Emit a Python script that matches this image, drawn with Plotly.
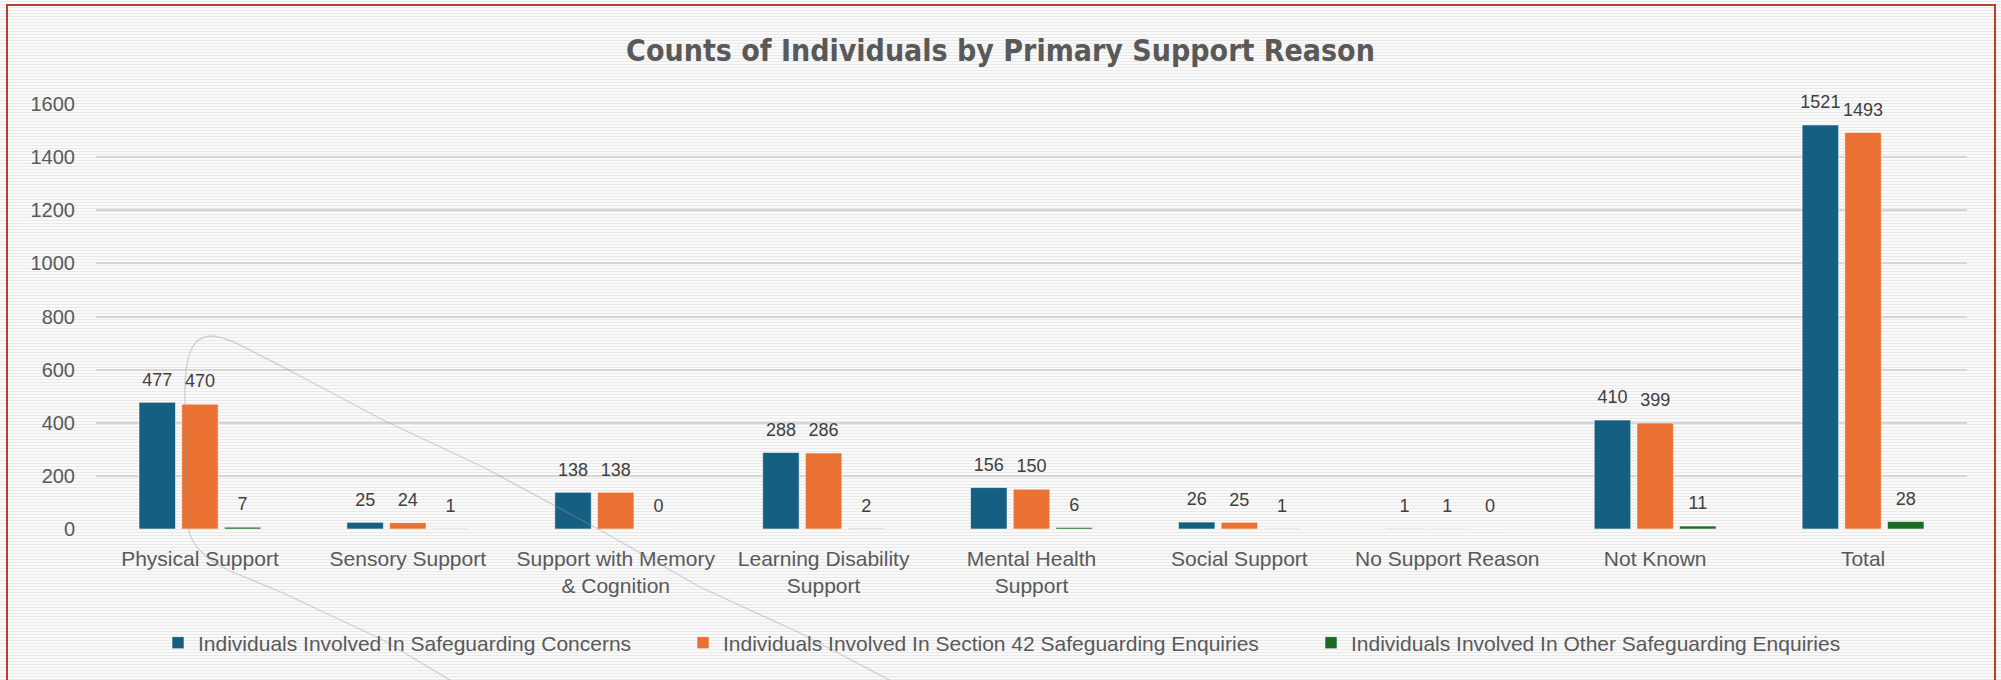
import plotly.graph_objects as go

categories = ["Physical Support", "Sensory Support", "Support with Memory<br>& Cognition",
              "Learning Disability<br>Support", "Mental Health<br>Support", "Social Support",
              "No Support Reason", "Not Known", "Total"]
concerns = [477, 25, 138, 288, 156, 26, 1, 410, 1521]
section42 = [470, 24, 138, 286, 150, 25, 1, 399, 1493]
other = [7, 1, 0, 2, 6, 1, 0, 11, 28]
series_names = ["Individuals Involved In Safeguarding Concerns",
                "Individuals Involved In Section 42 Safeguarding Enquiries",
                "Individuals Involved In Other Safeguarding Enquiries"]
colors = ["#156082", "#E97132", "#196B24"]
y_ticks = [0, 200, 400, 600, 800, 1000, 1200, 1400, 1600]

W, H = 2001, 680
L, R, T, B = 96, 1967, 104, 529


def px(x):
    return (x - L) / (R - L)


def py(y):
    return (B - y) / (B - T)


fig = go.Figure()
legends = ["legend", "legend2", "legend3"]
for vals, name, col, lg in zip([concerns, section42, other], series_names, colors, legends):
    fig.add_trace(go.Bar(x=categories, y=vals, name=name, marker_color=col,
                         marker_line=dict(color="rgba(255,255,255,0.55)", width=1),
                         legend=lg, hoverinfo="skip"))
for vals, col in zip([concerns, section42, other], colors):
    fig.add_trace(go.Scatter(x=categories, y=vals, mode="markers+text", text=[str(v) for v in vals],
                             textposition="top center",
                             textfont=dict(family="Liberation Sans, Arial, sans-serif", size=18, color="#404040"),
                             marker=dict(size=18, color="rgba(0,0,0,0)"),
                             showlegend=False, hoverinfo="skip", cliponaxis=False))

shapes = []
# striped background
for k in range(0, H // 3 + 1):
    yy = 3 * k + 1.5
    shapes.append(dict(type="line", xref="paper", yref="paper", x0=px(-5), x1=px(W + 5),
                       y0=py(yy), y1=py(yy), line=dict(color="#e9e9e9", width=1), layer="below"))
# faint curved stroke
pts = "M {} {} L {} {} L {} {} L {} {} C {} {}, {} {}, {} {} L {} {} C {} {}, {} {}, {} {} C {} {}, {} {}, {} {} L {} {} L {} {} L {} {} L {} {} L {} {} L {} {}"
coords = [(455, 683), (383, 640), (283, 593), (230, 571), (205, 559), (190, 545), (188, 525),
          (185, 400), (184, 352), (193, 336), (212, 336), (228, 337), (245, 348), (283, 367),
          (383, 420), (483, 467), (600, 530), (700, 587), (800, 633), (895, 683)]
flat = []
for (a, b) in coords:
    flat += [round(px(a), 5), round(py(b), 5)]
shapes.append(dict(type="path", xref="paper", yref="paper", path=pts.format(*flat),
                   line=dict(color="rgba(150,150,150,0.4)", width=1.3), layer="above"))
# red border
shapes.append(dict(type="rect", xref="paper", yref="paper", x0=px(7), x1=px(1995), y0=py(690), y1=py(5),
                   line=dict(color="#BE3B32", width=2), fillcolor="rgba(0,0,0,0)", layer="above"))

legend_common = dict(orientation="h", yanchor="middle", y=py(643), xanchor="left",
                     bgcolor="rgba(0,0,0,0)",
                     font=dict(family="Liberation Sans, Arial, sans-serif", size=21, color="#595959"))

fig.update_layout(
    width=W, height=H,
    margin=dict(l=L, r=W - R, t=T, b=H - B),
    paper_bgcolor="#fafafa", plot_bgcolor="rgba(0,0,0,0)",
    font=dict(family="Liberation Sans, Arial, sans-serif", color="#595959"),
    title=dict(text="Counts of Individuals by Primary Support Reason", x=0.5, xref="container",
               xanchor="center", y=1 - 50 / H, yanchor="middle",
               font=dict(family="DejaVu Sans Condensed, Liberation Sans Narrow, Arial Narrow, sans-serif",
                         size=30, color="#595959", weight="bold")),
    barmode="group", bargap=0.384, bargroupgap=0.145,
    scattermode="group",
    xaxis=dict(tickfont=dict(size=21, color="#595959"), showgrid=False, zeroline=False,
               ticks="", ticklabelstandoff=15, showline=False),
    yaxis=dict(range=[0, 1600], tickvals=y_ticks, tickfont=dict(size=20, color="#595959"),
               showgrid=True, gridcolor="#d6d6d6", gridwidth=1.5, zeroline=False, ticks="",
               ticklabelstandoff=20),
    legend=dict(**legend_common, x=px(158)),
    legend2=dict(**legend_common, x=px(683)),
    legend3=dict(**legend_common, x=px(1311)),
    shapes=shapes,
    showlegend=True,
)

fig.write_html("out.html")
